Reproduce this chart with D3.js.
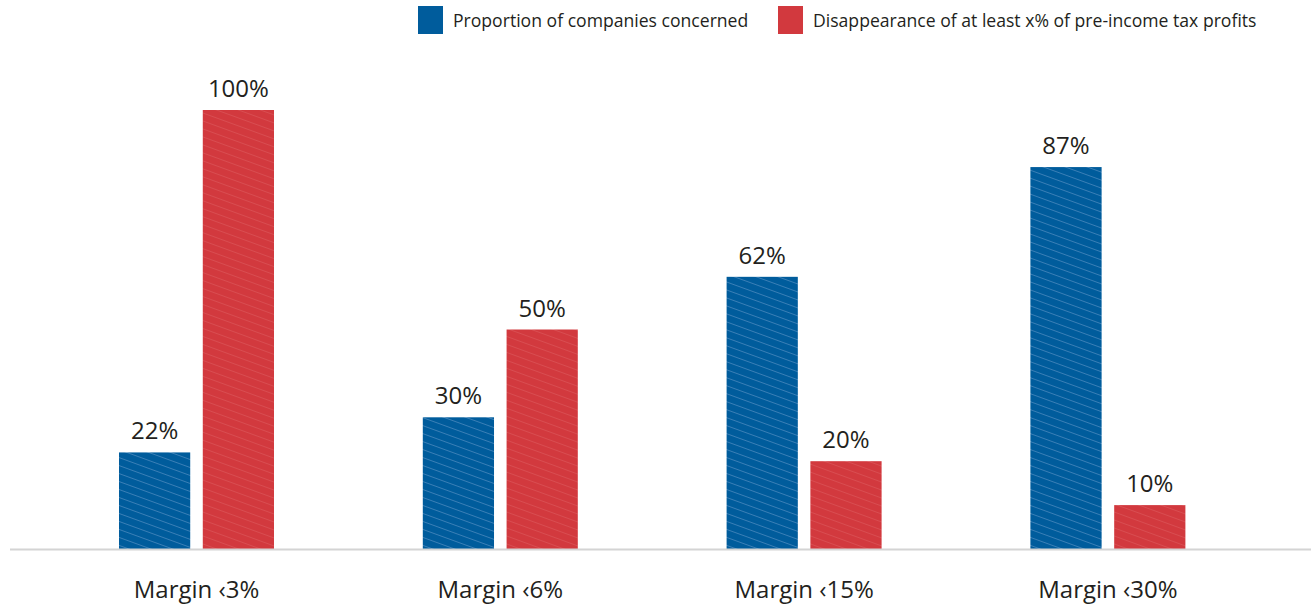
<!DOCTYPE html>
<html>
<head>
<meta charset="utf-8">
<script src="https://cdn.jsdelivr.net/npm/d3@7"></script>
<style>
  body { margin: 0; background: #fff; }
  svg text { font-family: "Open Sans", "Noto Sans", sans-serif; fill: #231f20; }
</style>
</head>
<body>
<svg id="chart" width="1311" height="607"></svg>
<script>
let categories = ["Margin \u20393%", "Margin \u20396%", "Margin \u203915%", "Margin \u203930%"];
let seriesNames = ["Proportion of companies concerned", "Disappearance of at least x% of pre-income tax profits"];
let proportion = [22, 30, 62, 87];
let disappearance = [100, 50, 20, 10];

let colors = ["#005c9c", "#d2393e"];
let hatchColors = ["#5b93c6", "#dc6165"];

let width = 1311, height = 607;
let baseline = 549;

let svg = d3.select("#chart");

// hatch patterns for the bars
let defs = svg.append("defs");
colors.forEach((c, i) => {
  let p = defs.append("pattern")
    .attr("id", "hatch" + i)
    .attr("patternUnits", "userSpaceOnUse")
    .attr("width", 7.5)
    .attr("height", 7.5)
    .attr("patternTransform", "rotate(-70)");
  p.append("rect").attr("width", 7.5).attr("height", 7.5).attr("fill", c);
  p.append("line")
    .attr("x1", 0).attr("y1", 0).attr("x2", 0).attr("y2", 7.5)
    .attr("stroke", hatchColors[i])
    .attr("stroke-width", i == 0 ? 1.2 : 0.9);
});

let x0 = d3.scaleBand().domain(categories).range([44.6, 1259.8]).paddingInner(0).paddingOuter(0);
let x1 = d3.scaleBand().domain([0, 1]).range([x0.bandwidth() / 2 - 77.5, x0.bandwidth() / 2 + 77.5]).paddingInner(0.15);
let y = d3.scaleLinear().domain([0, 100]).range([baseline, 110]);

let data = categories.map((c, i) => ({ cat: c, values: [proportion[i], disappearance[i]] }));

let groups = svg.selectAll(".group")
  .data(data)
  .join("g")
  .attr("class", "group")
  .attr("transform", d => "translate(" + x0(d.cat) + ",0)");

groups.selectAll("rect")
  .data(d => d.values)
  .join("rect")
  .attr("x", (d, i) => x1(i))
  .attr("width", x1.bandwidth())
  .attr("y", d => y(d))
  .attr("height", d => baseline - y(d))
  .attr("fill", (d, i) => "url(#hatch" + i + ")");

groups.selectAll(".val")
  .data(d => d.values)
  .join("text")
  .attr("class", "val")
  .attr("x", (d, i) => x1(i) + x1.bandwidth() / 2)
  .attr("y", d => y(d) - 13)
  .attr("text-anchor", "middle")
  .attr("font-size", 24)
  .text(d => d + "%");

// axis line
svg.append("line")
  .attr("x1", 10).attr("x2", width)
  .attr("y1", baseline + 0.5).attr("y2", baseline + 0.5)
  .attr("stroke", "#d4d4d4")
  .attr("stroke-width", 2);

// category labels
svg.selectAll(".cat")
  .data(categories)
  .join("text")
  .attr("class", "cat")
  .attr("x", d => x0(d) + x0.bandwidth() / 2)
  .attr("y", 598)
  .attr("text-anchor", "middle")
  .attr("font-size", 24)
  .text(d => d);

// legend
let legendX = [418, 778];
let legend = svg.selectAll(".legend")
  .data(seriesNames)
  .join("g")
  .attr("class", "legend")
  .attr("transform", (d, i) => "translate(" + legendX[i] + ",6)");
legend.append("rect")
  .attr("width", 25).attr("height", 28)
  .attr("fill", (d, i) => colors[i]);
legend.append("text")
  .attr("x", 35).attr("y", 21)
  .attr("font-size", 17.6)
  .text(d => d);
</script>
</body>
</html>
